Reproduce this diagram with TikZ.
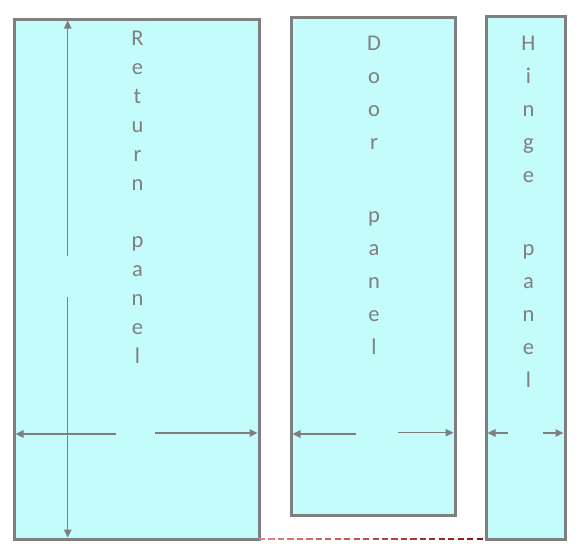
\documentclass[tikz,border=0pt]{standalone}
\usepackage{fontspec}
\setmainfont{Carlito}
\usetikzlibrary{arrows.meta,calc}
\definecolor{panelfill}{RGB}{196,251,251}
\definecolor{panelline}{RGB}{127,127,127}
\definecolor{txtgray}{RGB}{128,128,128}
\definecolor{redlight}{RGB}{232,130,130}
\definecolor{reddark}{RGB}{140,20,20}
\tikzset{
  panel/.style={draw=panelline, fill=panelfill, line width=3pt, rectangle, inner sep=0pt, outer sep=0pt},
  dimarrow/.style={draw=panelline, line width=1.1pt, -{Triangle[length=8pt,width=7.5pt]}},
  letter/.style={text=txtgray, anchor=base, inner sep=0pt, font=\fontsize{22.5}{26}\selectfont}
}
\begin{document}
\begin{tikzpicture}[x=1pt,y=-1pt]
\useasboundingbox (0,0) rectangle (579,558);
% panels
\node[panel, minimum width=245pt, minimum height=520pt] (ret) at (136.5,279) {};
\node[panel, minimum width=164pt, minimum height=497.5pt] (door) at (373,266.25) {};
\node[panel, minimum width=79pt, minimum height=523pt] (hinge) at (525.5,277.5) {};
% red dashed line
\foreach \i in {0,...,23} {
  \pgfmathsetmacro{\a}{\i/24}
  \pgfmathsetmacro{\b}{(\i+0.66)/24}
  \pgfmathtruncatemacro{\m}{100-\i*100/23}
  \draw[redlight!\m!reddark, line width=1.4pt] ($(ret.south east)!\a!(hinge.south west)$) -- ($(ret.south east)!\b!(hinge.south west)$);
}
% vertical dimension arrow in return panel
\coordinate (vt) at (67.7,256);
\coordinate (vb) at (67.7,297);
\draw[dimarrow] (vt) -- ($(vt |- ret.north)+(0,1.5)$);
\draw[dimarrow] (vb) -- ($(vb |- ret.south)+(0,-1.5)$);
% horizontal arrows
\coordinate (rl) at (116,434);
\coordinate (rr) at (155,433);
\draw[dimarrow] (rl) -- ($(rl -| ret.west)+(1.5,0)$);
\draw[dimarrow] (rr) -- ($(rr -| ret.east)+(-1.5,0)$);
\coordinate (dl) at (356,434);
\coordinate (dr) at (398,432.7);
\draw[dimarrow] (dl) -- ($(dl -| door.west)+(1.5,0)$);
\draw[dimarrow] (dr) -- ($(dr -| door.east)+(-1.5,0)$);
\coordinate (hl) at (508,433);
\coordinate (hr) at (543,433);
\draw[dimarrow] (hl) -- ($(hl -| hinge.west)+(1.5,0)$);
\draw[dimarrow] (hr) -- ($(hr -| hinge.east)+(-1.5,0)$);
% letters
\foreach \c/\y [count=\k] in {R/45,e/74,t/103,u/132,r/161,n/190,p/247,a/276,n/305,e/334,l/363}
  \node[letter] (rt\k) at (137.5,\y) {\c};
\foreach \c/\y [count=\k] in {D/50,o/83,o/116,r/149,p/222,a/255,n/288,e/321,l/354}
  \node[letter] (dt\k) at (374,\y) {\c};
\foreach \c/\y [count=\k] in {H/50,i/83,n/116,g/149,e/182,p/255,a/288,n/321,e/354,l/387}
  \node[letter] (ht\k) at (528.5,\y) {\c};
\end{tikzpicture}
\end{document}
